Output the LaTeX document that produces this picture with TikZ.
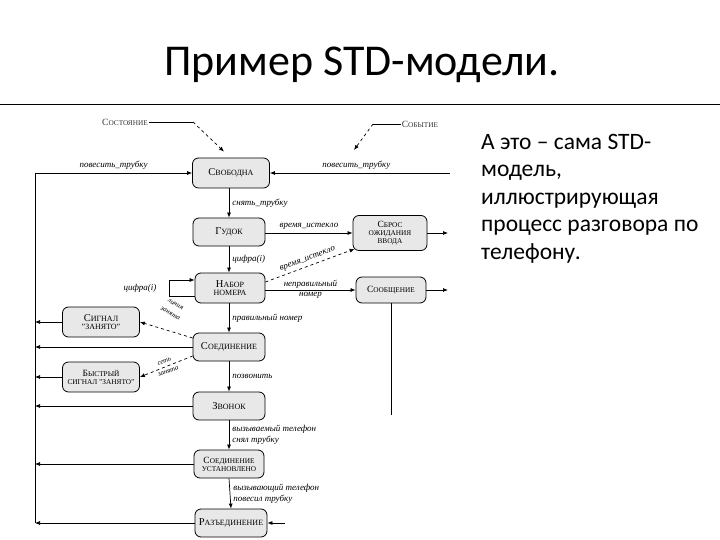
\documentclass[tikz,border=0pt]{standalone}
\usepackage{fontspec}
\setmainfont{Liberation Serif}
\newfontfamily\calfont{Carlito}
\usetikzlibrary{arrows.meta}
\newcommand\SC[2]{{\fontsize{10.5}{11}\selectfont #1}{\fontsize{8}{10}\selectfont #2}}
\newcommand\SCs[2]{{\fontsize{9.5}{10}\selectfont #1}{\fontsize{7.3}{9}\selectfont #2}}
\begin{document}
\begin{tikzpicture}[x=1pt,y=-1pt,
  state/.style={draw, rounded corners=6pt, fill=gray!18, minimum width=72pt, minimum height=28pt, align=center, inner sep=1pt, line width=0.8pt, font=\fontsize{8}{10}\selectfont},
  lbl/.style={font=\fontsize{9}{11}\selectfont\itshape, inner sep=1pt, align=left},
  slbl/.style={font=\fontsize{7}{10.5}\selectfont\itshape, inner sep=0.5pt, align=center},
  ann/.style={font=\fontsize{8}{9}\selectfont, inner sep=1pt, text=black!80},
  arr/.style={-{Latex[length=5pt,width=4pt]}, line width=0.7pt},
  ln/.style={line width=0.7pt}]
\useasboundingbox (0,0) rectangle (720,540);

% title and text
\node[font=\calfont\fontsize{44}{50}\selectfont, inner sep=0, anchor=base] (title) at (362,76) {Пример STD-модели.};
\coordinate (rl) at (0,105);
\coordinate (rr) at (720,105);
\draw[line width=1pt] (rl) -- (rr);
\node[font=\calfont\fontsize{23.5}{27.5}\selectfont, align=left, anchor=north west, inner sep=0] (txt) at (481,134)
  {А это – сама STD-\\модель,\\иллюстрирующая\\процесс разговора по\\телефону.};

% states
\node[state, minimum width=77pt, minimum height=30pt] (svob) at (231,173) {\SC{С}{ВОБОДНА}};
\node[state] (gud) at (229,232) {\SC{Г}{УДОК}};
\node[state, minimum width=74pt, minimum height=35pt] (sbros) at (390,233) {\SCs{С}{БРОС}\\[-2pt]\SCs{}{ОЖИДАНИЯ}\\[-2pt]\SCs{}{ВВОДА}};
\node[state, minimum width=70pt, minimum height=30pt] (nabor) at (230,288) {\SC{Н}{АБОР}\\[-2pt]\SC{}{НОМЕРА}};
\node[state, minimum width=70pt, minimum height=26pt] (soob) at (391,290) {\SCs{С}{ООБЩЕНИЕ}};
\node[state, minimum width=77pt, minimum height=30pt] (sig) at (101,322) {\SC{С}{ИГНАЛ}\\[-2pt]\SC{}{"ЗАНЯТО"}};
\node[state] (soed) at (229,347) {\SC{С}{ОЕДИНЕНИЕ}};
\node[state, minimum width=77pt, minimum height=30pt] (bys) at (101,377) {\SCs{Б}{ЫСТРЫЙ}\\[-2pt]\SCs{}{СИГНАЛ "ЗАНЯТО"}};
\node[state] (zv) at (229,406) {\SC{З}{ВОНОК}};
\node[state, minimum width=70pt] (ust) at (229,464) {\SCs{С}{ОЕДИНЕНИЕ}\\[-2pt]\SCs{}{УСТАНОВЛЕНО}};
\node[state] (raz) at (231,523) {\SC{Р}{АЗЪЕДИНЕНИЕ}};

% annotations
\node[ann] (sost) at (125,122) {\SCs{С}{ОСТОЯНИЕ}};
\coordinate (sk) at (193,122);
\draw[ln] (sost.east) -- (sk);
\draw[ln, dashed, arr] (sk) -- ([xshift=-7pt,yshift=6pt]svob.north);
\node[ann] (sob) at (420,124) {\SCs{С}{ОБЫТИЕ}};
\coordinate (ek) at (373,124);
\coordinate (ee) at (354,150);
\draw[ln] (sob.west) -- (ek);
\draw[ln, dashed, arr] (ek) -- (ee);

% left bus
\coordinate (bt) at (35,173);
\coordinate (bb) at (35,523);
\draw[ln] (bt) -- (bb);
\draw[arr] (bt) -- (svob.west) node[lbl, midway, above=2pt] {повесить\_трубку};
\draw[arr] (sig.west) -- (sig.west -| bt);
\draw[arr] (soed.west) -- (soed.west -| bt);
\draw[arr] (bys.west) -- (bys.west -| bt);
\draw[arr] (zv.west) -- (zv.west -| bt);
\draw[arr] (ust.west) -- (ust.west -| bt);
\draw[arr] (raz.west) -- (bb);

% top right
\coordinate (rt) at (450,173);
\draw[arr] (rt) -- (svob.east) node[lbl, pos=0.52, above=2pt] {повесить\_трубку};

% vertical chain
\draw[arr] (svob.south -| gud.north) -- (gud.north) node[lbl, midway, right=2pt] {снять\_трубку};
\draw[arr] (gud.south) -- (gud.south |- nabor.north) node[lbl, midway, right=2pt] {цифра(i)};
\draw[arr] (nabor.south -| soed.north) -- (soed.north) node[lbl, midway, right=2pt] {правильный номер};
\draw[arr] (soed.south) -- (zv.north) node[lbl, midway, right=2pt] {позвонить};
\draw[arr] (zv.south) -- (ust.north) node[lbl, midway, right=2pt] {вызываемый телефон\\снял трубку};
\draw[arr] (ust.south) -- (raz.south |- raz.north) node[lbl, midway, right=2pt] {вызывающий телефон\\повесил трубку};

% horizontals
\draw[arr] (gud.east |- sbros.west) -- (sbros.west) node[lbl, midway, above=2pt] {время\_истекло};
\draw[arr, dashed] ([yshift=6pt]nabor.east) -- ([xshift=2pt,yshift=2pt]sbros.south west)
  node[lbl, midway, sloped, above=2pt] {время\_истекло};
\draw[arr] (nabor.east |- soob.west) -- (soob.west)
  node[lbl, midway, above=0pt] {неправильный} node[lbl, midway, below=1pt] {номер};
\draw[arr] ([yshift=-8pt]nabor.west) -- ++(-25,0) -- ++(0,-16) -- ([yshift=8pt]nabor.west);
\node[lbl] (cif) at (140,288) {цифра(i)};

% dashed to left boxes
\draw[arr, dashed] ([yshift=9pt]soed.west) -- (sig.east);
\node[slbl, rotate=-30] (lz) at (173,309) {линия\\занята};
\draw[arr, dashed] ([yshift=-9pt]soed.west) -- (bys.east)
  node[slbl, midway, sloped] {сеть\\занята};

% right stubs
\coordinate (s1) at (448,233);
\draw[arr] (sbros.east) -- (s1);
\draw[arr] (soob.east) -- (soob.east -| s1);
\coordinate (sd) at (391,415);
\draw[ln] (soob.south) -- (sd);
\coordinate (rs) at (285,523);
\draw[arr] (rs) -- (raz.east);
\end{tikzpicture}
\end{document}
